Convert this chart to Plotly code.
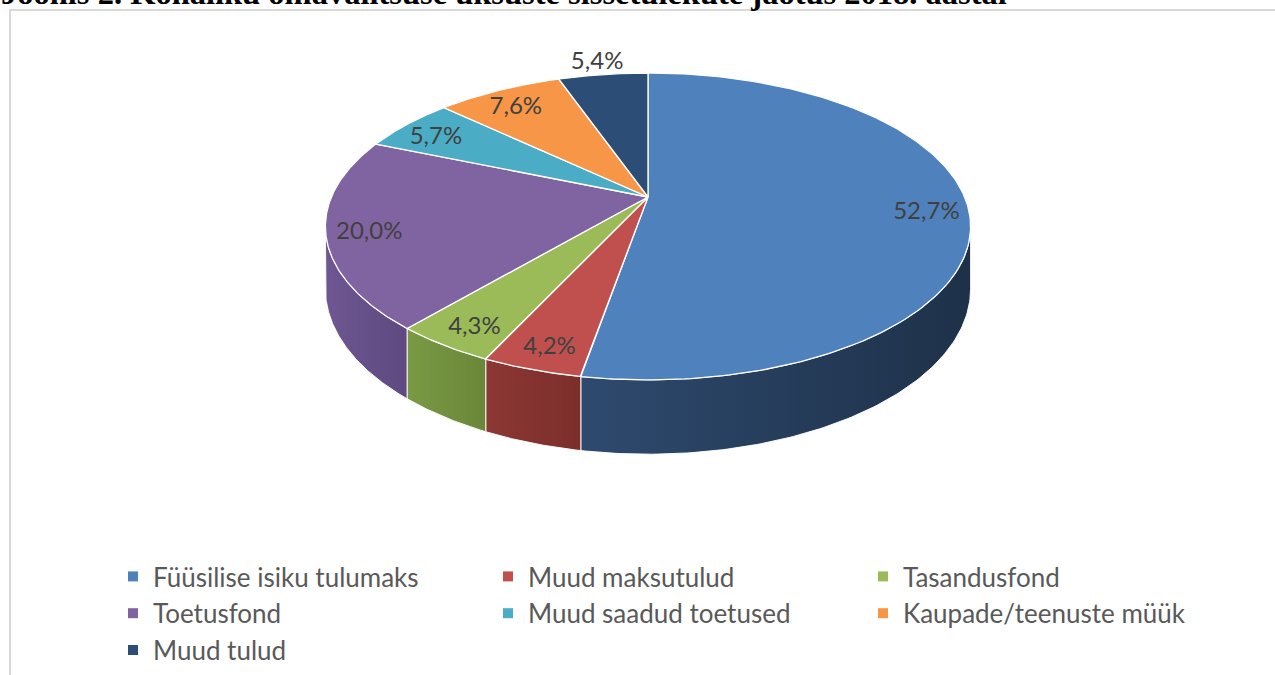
import numpy as np
import plotly.graph_objects as go

# ---------------- data ----------------
categories = [
    "Füüsilise isiku tulumaks",
    "Muud maksutulud",
    "Tasandusfond",
    "Toetusfond",
    "Muud saadud toetused",
    "Kaupade/teenuste müük",
    "Muud tulud",
]
shares = [52.7, 4.2, 4.3, 20.0, 5.7, 7.6, 5.4]
title_text = "Joonis 2. Kohaliku omavalitsuse üksuste sissetulekute jaotus 2018. aastal"

# ---------------- styles ----------------
top_colors = ["#4F81BD", "#C0504D", "#9BBB59", "#8064A2", "#4BACC6", "#F79646", "#2C4D75"]
side_colors = [
    ("#2E4A6E", "#1E3149"),
    ("#8C3734", "#7C2E2B"),
    ("#7A9A45", "#6A8739"),
    ("#6E5792", "#5E4980"),
    ("#3A8A9F", "#2F7589"),
    ("#C8783A", "#B06A32"),
    ("#233E5E", "#1C324C"),
]
outside_labels = ["Muud tulud"]
legend_columns = ["legend", "legend2", "legend3"]

# 3D pie geometry (pixel space)
CX, CY = 648.0, 197.0
RX, RY = 316.6, 147.8
PERSP = 0.192
DEPTH = 60.0
LABEL_DROP = 5.0
W, H = 1275, 675
FONT = "Lato"


def proj(theta_deg, f=1.0, drop=0.0):
    t = np.radians(theta_deg)
    u = f * np.sin(t)
    v = f * np.cos(t)
    s = 1.0 / (1.0 + PERSP * v)
    return CX + RX * u * s, CY - RY * v * s + drop * s


total = float(sum(shares))
fr = np.array(shares) / total
ends = np.cumsum(fr) * 360.0
starts = ends - fr * 360.0
sil = np.degrees(np.arccos(-PERSP))  # visible rim between sil and 360-sil

fig = go.Figure()

# sides
for i, cat in enumerate(categories):
    a0 = max(starts[i], sil)
    a1 = min(ends[i], 360.0 - sil)
    if a1 <= a0:
        continue
    th = np.linspace(a0, a1, 120)
    tx, ty = proj(th)
    bx, by = proj(th, drop=DEPTH)
    xs = np.concatenate([tx, bx[::-1], tx[:1]])
    ys = np.concatenate([ty, by[::-1], ty[:1]])
    fig.add_trace(go.Scatter(
        x=xs, y=ys, mode="lines", fill="toself",
        fillcolor=side_colors[i][1],
        fillgradient=dict(type="horizontal",
                          colorscale=[[0, side_colors[i][0]], [1, side_colors[i][1]]]),
        line=dict(color="rgba(255,255,255,0.9)", width=1),
        hoverinfo="skip", showlegend=False,
    ))

# top faces
for i, cat in enumerate(categories):
    th = np.linspace(starts[i], ends[i], 200)
    ax_, ay_ = proj(th)
    xs = np.concatenate([[CX], ax_, [CX]])
    ys = np.concatenate([[CY], ay_, [CY]])
    fig.add_trace(go.Scatter(
        x=xs, y=ys, mode="lines", fill="toself", fillcolor=top_colors[i],
        line=dict(color="white", width=1.3),
        name=cat, hoverinfo="name", showlegend=False,
    ))

# data labels
lx, ly, lt = [], [], []
for i, cat in enumerate(categories):
    mid = (starts[i] + ends[i]) / 2
    f = 1.16 if cat in outside_labels else 0.87
    x, y = proj(mid, f=f)
    lx.append(x)
    ly.append(y + LABEL_DROP)
    lt.append(f"{shares[i]:.1f}%".replace(".", ","))
fig.add_trace(go.Scatter(
    x=lx, y=ly, text=lt, mode="text",
    textfont=dict(family=FONT, size=24, color="#404040"),
    hoverinfo="skip", showlegend=False,
))

# legend entries: items fill rows of three columns
for i, cat in enumerate(categories):
    fig.add_trace(go.Scatter(
        x=[None], y=[None], mode="markers", name=cat,
        legend=legend_columns[i % 3],
        marker=dict(symbol="square", size=10, color=top_colors[i]),
    ))

legend_common = dict(
    orientation="v", yanchor="top", y=1 - 553 / H, xanchor="left",
    font=dict(family=FONT, size=26, color="#595959"),
    traceorder="normal", bgcolor="rgba(0,0,0,0)", borderwidth=0,
    itemclick=False, itemdoubleclick=False,
)
col_x = [113, 488, 863]

fig.update_layout(
    width=W, height=H,
    margin=dict(l=0, r=0, t=0, b=0, autoexpand=False),
    paper_bgcolor="white", plot_bgcolor="white",
    xaxis=dict(range=[0, W], visible=False, fixedrange=True),
    yaxis=dict(range=[H, 0], visible=False, fixedrange=True),
    showlegend=True,
    legend=dict(legend_common, x=col_x[0] / W),
    legend2=dict(legend_common, x=col_x[1] / W),
    legend3=dict(legend_common, x=col_x[2] / W),
    shapes=[dict(type="rect", xref="x", yref="y", x0=10, y0=10, x1=W + 20, y1=H + 20,
                 line=dict(color="#D9D9D9", width=2), layer="below")],
    annotations=[dict(
        text=f"<b>{title_text}</b>", xref="paper", yref="paper", x=0, y=1 + 7 / H,
        xanchor="left", yanchor="middle", showarrow=False, borderpad=0,
        font=dict(family="Liberation Serif", size=32.5, color="black"),
    )],
)

fig.write_html(
    "out.html",
    config={"displayModeBar": False},
    post_script="document.body.style.margin='0';document.body.style.padding='0';",
)
